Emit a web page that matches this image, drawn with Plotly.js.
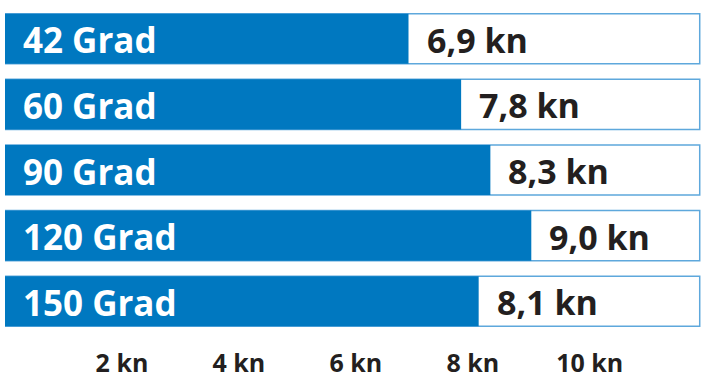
<!DOCTYPE html>
<html>
<head>
<meta charset="utf-8">
<script src="https://cdn.plot.ly/plotly-3.0.1.min.js"></script>
<style>html,body{margin:0;padding:0;background:#fff;}#chart{width:712px;height:383px;}</style>
</head>
<body>
<div id="chart"></div>
<script>
const categories = ['42 Grad', '60 Grad', '90 Grad', '120 Grad', '150 Grad'];
const speeds = [6.9, 7.8, 8.3, 9.0, 8.1];
const speedLabels = ['6,9 kn', '7,8 kn', '8,3 kn', '9,0 kn', '8,1 kn'];
const tickValues = [2, 4, 6, 8, 10];
const tickLabels = ['2 kn', '4 kn', '6 kn', '8 kn', '10 kn'];
const scaleMax = 11.88;

const FONT = '"Open Sans", sans-serif';
const BLUE = '#0078c0';
const DARK = '#231f20';

const traces = [
  {
    type: 'bar', orientation: 'h',
    y: categories, x: categories.map(() => scaleMax),
    marker: {color: '#ffffff', line: {color: '#5ea8dc', width: 1.5}},
    hoverinfo: 'skip', showlegend: false
  },
  {
    type: 'bar', orientation: 'h',
    y: categories, x: speeds,
    marker: {color: BLUE, line: {width: 0}},
    hoverinfo: 'skip', showlegend: false
  }
];

const annotations = [];
categories.forEach((c, i) => {
  annotations.push({
    x: 0, y: c, xref: 'x', yref: 'y', xanchor: 'left', yanchor: 'middle',
    xshift: 16, yshift: -1, showarrow: false,
    text: c,
    font: {family: FONT, size: 35, color: '#ffffff', weight: 700, stretch: 'condensed'}
  });
  annotations.push({
    x: speeds[i], y: c, xref: 'x', yref: 'y', xanchor: 'left', yanchor: 'middle',
    xshift: 16, yshift: -1, showarrow: false,
    text: speedLabels[i],
    font: {family: FONT, size: 34, color: DARK, weight: 700, stretch: 'condensed'}
  });
});

const layout = {
  width: 712, height: 383,
  margin: {l: 5, r: 0, t: 6, b: 49, pad: 0},
  paper_bgcolor: '#ffffff', plot_bgcolor: '#ffffff',
  barmode: 'overlay', bargap: 0.237,
  showlegend: false,
  xaxis: {
    range: [0, 12.09], showgrid: false, zeroline: false, showline: false,
    ticks: '', tickvals: tickValues,
    ticktext: tickLabels,
    tickfont: {family: FONT, size: 25, color: DARK, weight: 700, stretch: 'condensed'},
    ticklabelstandoff: 12,
    fixedrange: true
  },
  yaxis: {
    autorange: 'reversed', showticklabels: false, showgrid: false,
    zeroline: false, showline: false, ticks: '', fixedrange: true
  },
  annotations: annotations
};

Plotly.newPlot('chart', traces, layout, {displayModeBar: false, staticPlot: true});
</script>
</body>
</html>
